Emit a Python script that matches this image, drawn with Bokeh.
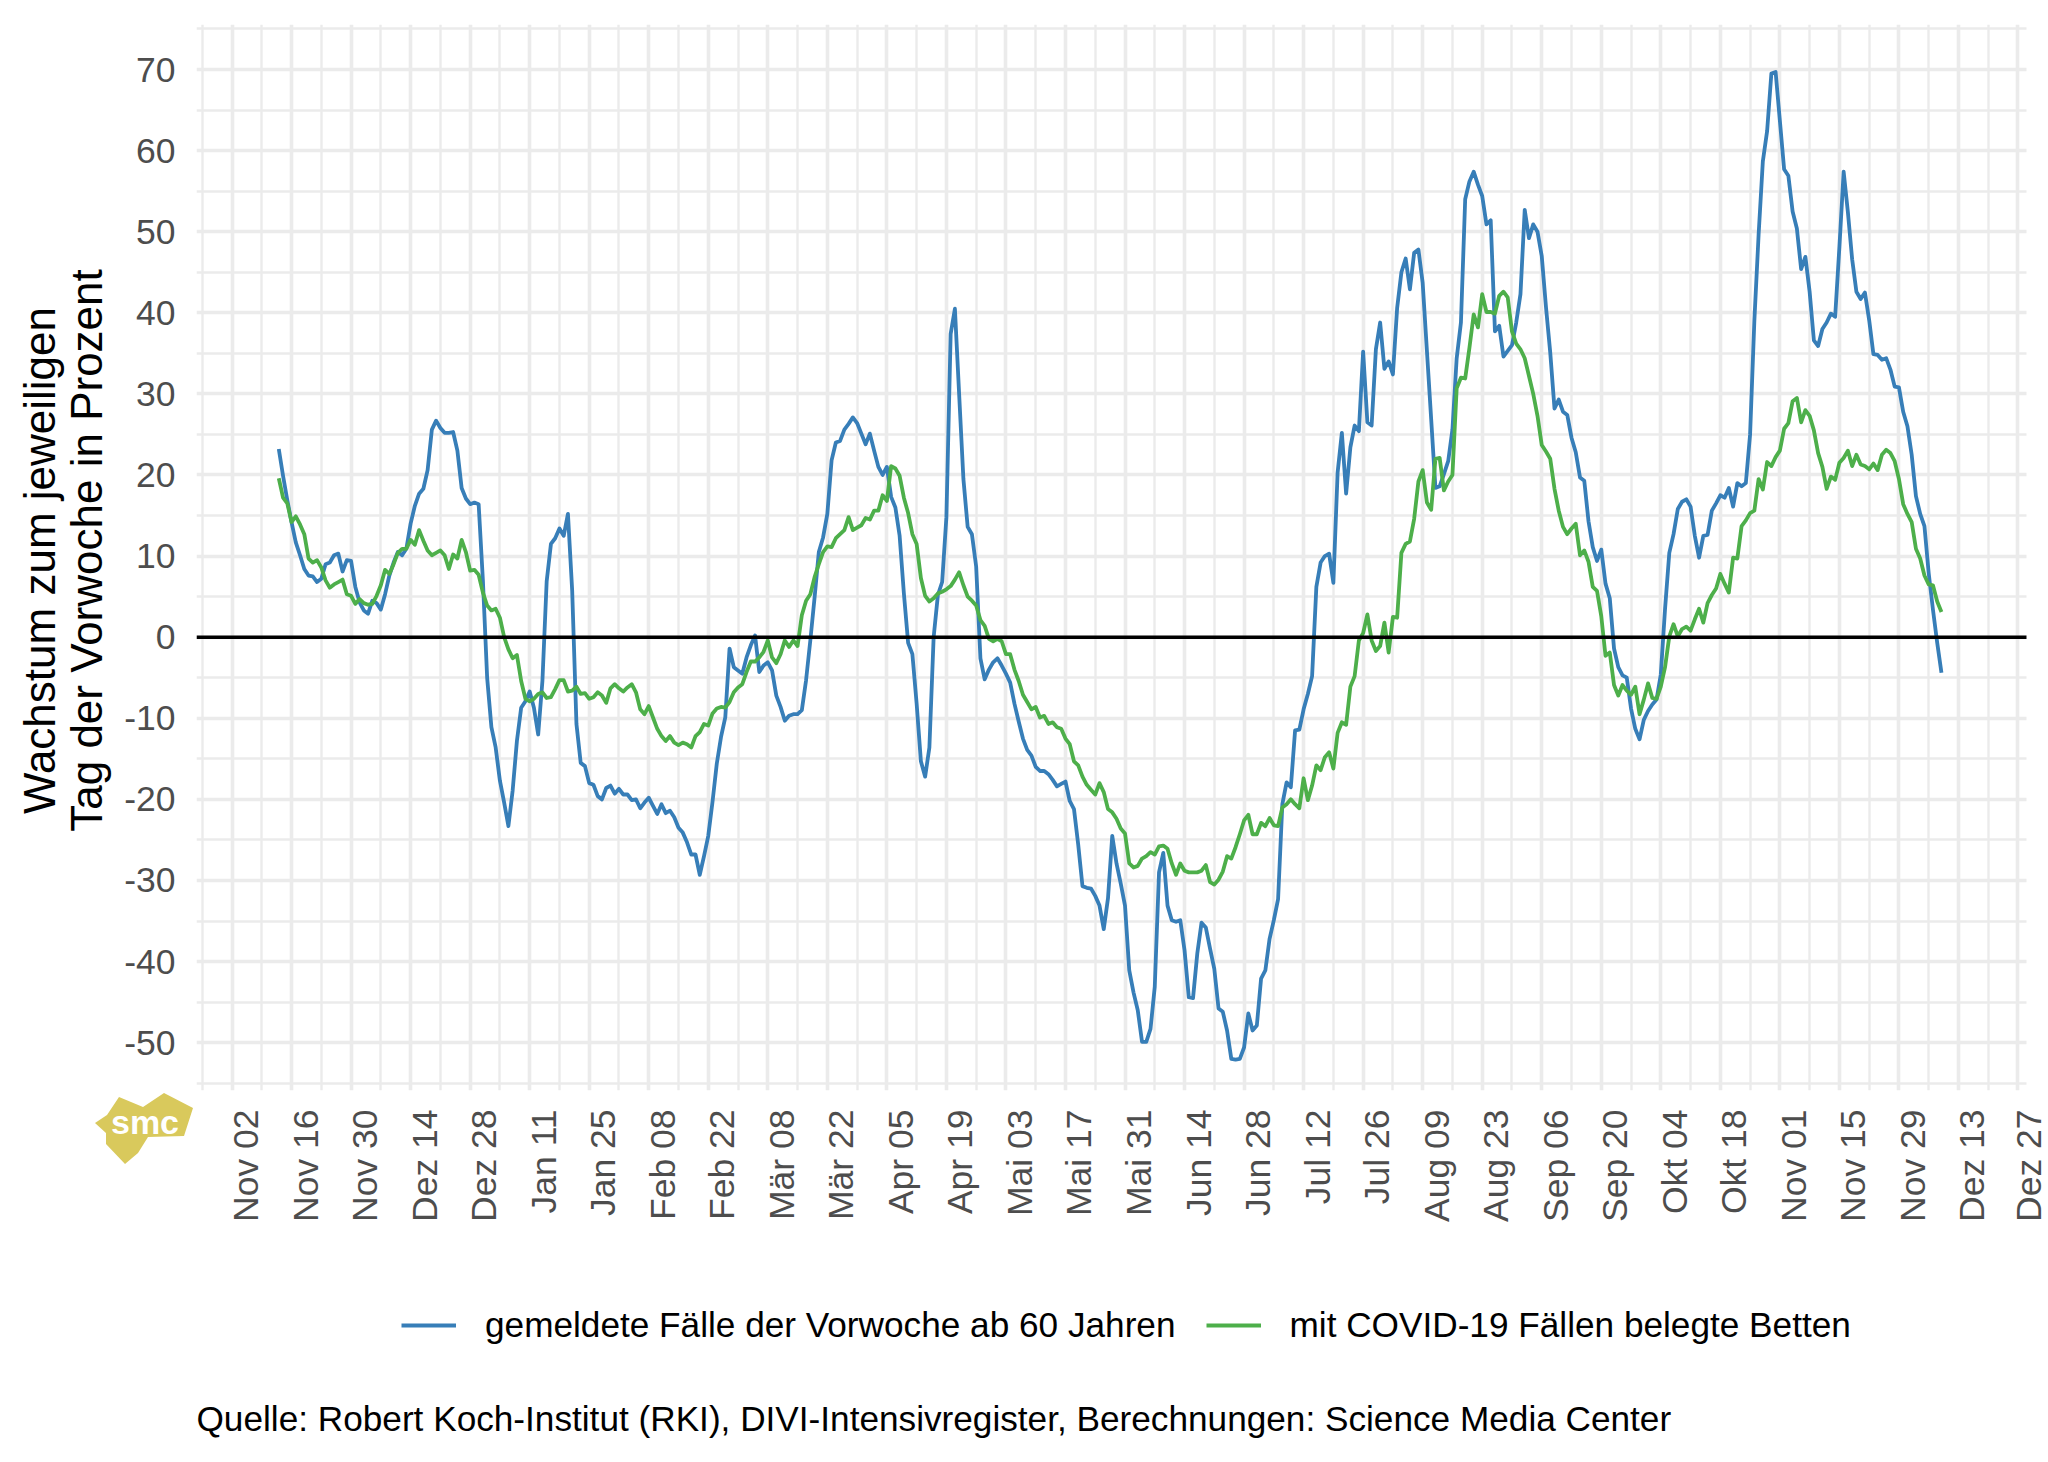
import math
import pandas as pd
from bokeh.embed import file_html
from bokeh.layouts import column
from bokeh.resources import INLINE
from bokeh.plotting import figure
from bokeh.models import (BoxAnnotation, Div, FixedTicker, Grid, Label, Legend, LegendItem,
                          LinearAxis, Range1d, Span)

FONT = "Liberation Sans"

start_date = "2020-11-13"
faelle = [
    23.2,19.9,16.9,14.2,11.7,10.1,8.4,7.6,7.5,6.8,
    7.2,9.0,9.2,10.1,10.3,8.1,9.5,9.4,6.2,4.3,
    3.3,2.9,4.5,4.2,3.4,5.3,7.6,9.2,10.5,10.1,
    10.9,14.0,16.2,17.7,18.3,20.6,25.6,26.7,25.8,25.2,
    25.2,25.3,23.0,18.4,17.1,16.4,16.6,16.4,7.0,-5.0,
    -11.1,-13.6,-17.7,-20.4,-23.3,-18.9,-12.8,-8.7,-7.9,-6.7,
    -8.7,-12.0,-5.4,6.9,11.5,12.2,13.4,12.5,15.2,5.7,
    -10.7,-15.5,-15.9,-18.0,-18.2,-19.6,-20.0,-18.6,-18.3,-19.3,
    -18.7,-19.4,-19.4,-20.1,-20.0,-21.1,-20.4,-19.8,-20.8,-21.8,
    -20.6,-21.7,-21.4,-22.2,-23.5,-24.1,-25.3,-26.8,-26.8,-29.3,
    -27.0,-24.5,-20.3,-15.6,-12.3,-9.9,-1.4,-3.7,-4.1,-4.5,
    -2.5,-1.0,0.2,-4.3,-3.5,-3.1,-4.1,-7.2,-8.6,-10.3,
    -9.7,-9.5,-9.5,-9.0,-5.3,-0.4,4.9,10.5,12.3,15.2,
    21.8,24.0,24.2,25.6,26.3,27.1,26.4,25.1,23.8,25.1,
    23.0,21.0,20.0,21.0,17.3,16.0,12.5,5.4,-0.7,-2.1,
    -8.2,-15.3,-17.2,-13.6,0.0,5.2,6.8,14.8,37.4,40.5,
    29.9,19.5,13.6,12.7,8.7,-2.6,-5.2,-4.0,-3.1,-2.6,
    -3.5,-4.5,-5.6,-8.2,-10.4,-12.5,-13.9,-14.6,-16.0,-16.5,
    -16.5,-16.9,-17.6,-18.4,-18.1,-17.8,-20.2,-21.2,-25.6,-30.7,
    -30.9,-31.0,-31.9,-33.1,-36.0,-32.2,-24.5,-27.9,-30.4,-33.1,
    -41.1,-43.8,-46.0,-49.9,-49.9,-48.3,-43.1,-29.0,-26.6,-33.1,
    -34.9,-35.1,-34.9,-38.6,-44.4,-44.5,-39.0,-35.2,-35.8,-38.4,
    -40.9,-45.8,-46.2,-48.5,-52.0,-52.1,-52.0,-50.6,-46.4,-48.5,
    -47.9,-42.1,-41.1,-37.2,-34.9,-32.3,-20.6,-17.9,-18.5,-11.5,
    -11.4,-8.9,-7.0,-4.8,6.2,9.2,10.0,10.3,6.7,20.3,
    25.2,17.7,23.4,26.1,25.4,35.2,26.5,26.1,35.5,38.8,
    33.1,34.0,32.4,40.6,45.0,46.7,42.9,47.4,47.8,43.7,
    35.3,26.9,18.4,18.6,20.1,21.7,25.6,34.4,38.8,54.0,
    56.2,57.4,55.8,54.4,50.9,51.4,37.7,38.4,34.6,35.3,
    36.0,38.8,42.3,52.7,49.2,50.9,50.0,47.0,40.7,35.1,
    28.2,29.3,27.8,27.4,24.6,22.8,19.7,19.3,14.3,11.1,
    9.4,10.8,6.6,4.8,-1.4,-3.7,-4.7,-5.0,-8.8,-11.3,
    -12.6,-10.2,-9.1,-8.3,-7.7,-4.6,3.5,10.4,12.7,15.8,
    16.7,17.0,16.1,12.5,9.8,12.5,12.6,15.6,16.5,17.5,
    17.2,18.4,16.1,19.0,18.6,19.0,25.0,39.0,49.6,58.7,
    62.4,69.5,69.7,63.7,57.7,56.9,52.5,50.4,45.4,46.9,
    42.6,36.6,35.9,38.0,38.8,39.9,39.5,48.1,57.4,52.4,
    46.6,42.6,41.7,42.5,39.1,34.9,34.8,34.2,34.4,33.0,
    30.9,30.8,27.8,26.0,22.5,17.4,15.2,13.7,7.9,3.4,
    -0.7,-4.4,
]
betten = [
    19.6,17.2,16.5,14.2,14.9,13.9,12.7,9.7,9.2,9.5,
    8.6,7.0,6.1,6.5,6.8,7.1,5.3,5.1,4.1,4.7,
    4.2,4.0,4.1,5.1,6.4,8.3,7.8,9.0,10.4,10.9,
    10.9,12.0,11.4,13.2,11.9,10.7,10.1,10.4,10.7,10.1,
    8.4,10.2,9.7,12.0,10.5,8.2,8.3,7.7,5.5,3.9,
    3.3,3.5,2.4,0.0,-1.5,-2.6,-2.2,-5.4,-7.6,-7.9,
    -7.6,-7.0,-6.8,-7.5,-7.4,-6.4,-5.3,-5.3,-6.7,-6.6,
    -6.1,-7.0,-6.9,-7.6,-7.4,-6.8,-7.2,-8.1,-6.3,-5.8,
    -6.3,-6.7,-6.2,-5.8,-6.8,-8.9,-9.5,-8.5,-9.9,-11.3,
    -12.2,-12.8,-12.2,-13.0,-13.3,-13.0,-13.2,-13.6,-12.2,-11.7,
    -10.7,-10.9,-9.4,-8.8,-8.6,-8.7,-8.0,-6.8,-6.2,-5.8,
    -4.3,-3.0,-3.0,-2.5,-1.8,-0.4,-2.5,-3.2,-2.1,-0.4,
    -1.2,-0.4,-1.1,2.7,4.5,5.3,7.4,9.0,10.5,11.2,
    11.1,12.2,12.7,13.2,14.8,13.2,13.5,13.8,14.7,14.5,
    15.6,15.6,17.5,16.8,21.1,20.8,19.9,17.2,15.3,12.7,
    11.5,7.3,5.1,4.4,4.8,5.4,5.6,5.9,6.3,7.1,
    8.0,6.4,5.0,4.5,3.9,2.1,1.4,-0.2,-0.5,-0.2,
    -0.5,-2.1,-2.1,-4.0,-5.4,-7.1,-8.0,-8.9,-8.6,-9.9,
    -9.7,-10.7,-10.5,-11.1,-11.3,-12.5,-13.2,-15.3,-15.8,-17.2,
    -18.2,-18.8,-19.4,-18.0,-19.1,-21.2,-21.6,-22.4,-23.6,-24.2,
    -27.9,-28.4,-28.2,-27.3,-27.0,-26.5,-26.8,-25.8,-25.7,-26.1,
    -27.9,-29.3,-27.9,-28.8,-29.0,-29.0,-29.0,-28.8,-28.1,-30.2,
    -30.5,-29.9,-28.9,-27.0,-27.3,-25.9,-24.3,-22.6,-21.9,-24.3,
    -24.3,-22.9,-23.3,-22.3,-23.2,-23.3,-21.0,-20.6,-20.0,-20.6,
    -21.1,-17.4,-20.1,-18.3,-15.8,-16.4,-14.8,-14.2,-16.2,-11.8,
    -10.5,-10.8,-6.1,-4.8,-0.4,0.5,2.8,-0.4,-1.7,-1.1,
    1.8,-1.9,2.5,2.4,10.4,11.5,11.8,14.6,19.2,20.6,
    16.6,15.7,22.0,22.1,18.1,19.2,20.0,30.7,32.0,31.9,
    35.7,39.8,38.2,42.3,40.1,40.1,39.9,42.1,42.6,41.9,
    37.7,36.2,35.5,34.4,32.2,30.0,27.3,23.7,22.9,22.0,
    18.3,15.6,13.6,12.7,13.4,14.0,10.1,10.7,9.3,6.2,
    5.7,2.6,-2.3,-1.9,-5.9,-7.2,-5.9,-6.6,-7.1,-6.1,
    -9.5,-7.7,-5.7,-7.5,-7.6,-6.1,-3.7,0.1,1.6,0.1,
    1.0,1.3,0.8,2.2,3.5,1.8,4.2,5.2,6.0,7.8,
    6.6,5.5,9.8,9.7,13.7,14.4,15.3,15.6,19.5,18.2,
    21.6,21.1,22.2,23.0,25.7,26.4,29.1,29.5,26.5,28.0,
    27.3,25.5,22.7,21.0,18.3,19.8,19.4,21.5,22.1,23.0,
    21.1,22.5,21.3,21.1,20.7,21.4,20.6,22.5,23.1,22.7,
    21.7,19.5,16.4,15.2,14.2,10.9,9.7,7.6,6.5,6.4,
    4.4,3.1,
]
x_tick_labels = ["Nov 02","Nov 16","Nov 30","Dez 14","Dez 28","Jan 11","Jan 25","Feb 08",
                 "Feb 22","Mär 08","Mär 22","Apr 05","Apr 19","Mai 03","Mai 17","Mai 31",
                 "Jun 14","Jun 28","Jul 12","Jul 26","Aug 09","Aug 23","Sep 06","Sep 20",
                 "Okt 04","Okt 18","Nov 01","Nov 15","Nov 29","Dez 13","Dez 27"]
y_ticks = [70,60,50,40,30,20,10,0,-10,-20,-30,-40,-50]
y_minor = [75,65,55,45,35,25,15,5,-5,-15,-25,-35,-45,-55]
series_names = ["gemeldete Fälle der Vorwoche ab 60 Jahren", "mit COVID-19 Fällen belegte Betten"]
caption = "Quelle: Robert Koch-Institut (RKI), DIVI-Intensivregister, Berechnungen: Science Media Center"
y_title = ["Wachstum zum jeweiligen", "Tag der Vorwoche in Prozent"]
logo_x = [95,107,119,143,164,193,184,148,138,125,106,106]
logo_y = [1123,1115,1097,1107,1093,1108,1136,1137,1153,1164,1144,1133]

assert len(faelle) == len(betten)
dates = pd.date_range(start_date, periods=len(faelle), freq="D")

DAY = 86400000
first_tick = int(pd.Timestamp("2020-11-02").value // 1000000)
x_ticks = [first_tick + 14 * DAY * i for i in range(len(x_tick_labels))]
x_minor = [first_tick + 7 * DAY * (2 * i - 1) for i in range(0, 31)]

# geometry: canvas pixels. The panel proper ends at PR; the frame runs on to the canvas edge
# so that the last shifted tick label stays in range, and a white box masks the remainder.
PL, PR, PT, PB = 196, 2026, 24, 1090
W, H_TOP, H_BOTTOM = 2048, 1240, 222
x0 = first_tick - 8.35 * DAY
x_panel_end = first_tick + 422 * DAY
ms_per_px = (x_panel_end - x0) / (PR - PL)
x1 = x0 + (W - PL) * ms_per_px
LABEL_SHIFT = 14

p = figure(width=W, height=H_TOP, output_backend="svg", toolbar_location=None,
           x_axis_type=None, y_axis_type=None,
           x_range=Range1d(x0, x1), y_range=Range1d(-55.9, 75.55),
           min_border_left=PL, min_border_right=0,
           min_border_top=PT, min_border_bottom=H_TOP - PB,
           background_fill_color="white", border_fill_color="white")
p.outline_line_color = None
p.extra_x_ranges["labels"] = Range1d(x0 - LABEL_SHIFT * ms_per_px, x1 - LABEL_SHIFT * ms_per_px)

xaxis = LinearAxis(x_range_name="labels", ticker=FixedTicker(ticks=x_ticks),
                   major_label_overrides=dict(zip(x_ticks, x_tick_labels)),
                   major_label_orientation=math.pi / 2, major_label_standoff=13,
                   major_label_text_font=FONT, major_label_text_font_size="35.5px",
                   major_label_text_color="#4D4D4D", major_tick_line_color=None,
                   minor_tick_line_color=None, axis_line_color=None)
p.add_layout(xaxis, "below")
yaxis = LinearAxis(ticker=FixedTicker(ticks=y_ticks),
                   major_label_overrides={v: str(v) for v in y_ticks},
                   major_label_standoff=15,
                   major_label_text_font=FONT, major_label_text_font_size="35.5px",
                   major_label_text_color="#4D4D4D", major_tick_line_color=None,
                   minor_tick_line_color=None, axis_line_color=None)
p.add_layout(yaxis, "left")

GRID = "#EBEBEB"
p.add_layout(Grid(dimension=0, ticker=FixedTicker(ticks=x_ticks, minor_ticks=x_minor),
                  grid_line_color=GRID, grid_line_width=3.6,
                  minor_grid_line_color=GRID, minor_grid_line_width=2.4))
p.add_layout(Grid(dimension=1, ticker=FixedTicker(ticks=y_ticks, minor_ticks=y_minor),
                  grid_line_color=GRID, grid_line_width=3.6,
                  minor_grid_line_color=GRID, minor_grid_line_width=2.4))

p.line(dates, faelle, line_color="#377EB8", line_width=3.8, line_join="round")
p.line(dates, betten, line_color="#4DAF4A", line_width=3.8, line_join="round")
p.add_layout(Span(location=0, dimension="width", line_color="black", line_width=3.4))
p.add_layout(BoxAnnotation(left=x_panel_end, fill_color="white", fill_alpha=1, line_color=None,
                           level="overlay"))

p.add_layout(Label(x=14, y=540, x_units="screen", y_units="screen", text=y_title[1], text_font=FONT,
                   text_font_size="44px", text_color="black", angle=math.pi / 2,
                   text_align="center", text_baseline="middle"), "left")
p.add_layout(Label(x=16, y=530, x_units="screen", y_units="screen", text=y_title[0], text_font=FONT,
                   text_font_size="44px", text_color="black", angle=math.pi / 2,
                   text_align="center", text_baseline="middle"), "left")

# footer: legend and source line
f = figure(width=W, height=H_BOTTOM, output_backend="svg", toolbar_location=None,
           x_axis_type=None, y_axis_type=None, x_range=Range1d(x0, x1), y_range=Range1d(1000, 1100),
           min_border=0, background_fill_color="white", border_fill_color="white")
f.outline_line_color = None
f.grid.visible = False
lf1 = f.line(dates, faelle, line_color="#377EB8", line_width=3.8)
lf2 = f.line(dates, betten, line_color="#4DAF4A", line_width=3.8)
f.add_layout(Legend(items=[LegendItem(label=series_names[0], renderers=[lf1]),
                           LegendItem(label=series_names[1], renderers=[lf2])],
                    orientation="horizontal", location=(205, 117), padding=0, margin=0,
                    glyph_width=55, glyph_height=36, label_standoff=29, spacing=30,
                    background_fill_alpha=0, border_line_color=None,
                    label_text_font=FONT, label_text_font_size="35.2px", label_text_color="black"))
f.add_layout(Label(x=0, y=44, x_units="screen", y_units="screen", text=caption, text_font=FONT,
                   text_font_size="35.2px", text_color="black", text_align="left",
                   text_baseline="middle"))

# logo, laid over the empty corner below the panel
LX, LY = min(logo_x), min(logo_y)
pts = " ".join(f"{x - LX},{y - LY}" for x, y in zip(logo_x, logo_y))
logo_svg = (f'<svg xmlns="http://www.w3.org/2000/svg" width="100" height="74" style="display:block">'
            f'<polygon points="{pts}" fill="#D9C95C"/>'
            f'<text x="50" y="41" text-anchor="middle" font-family="{FONT}" font-weight="bold" '
            f'font-size="34" fill="white">smc</text></svg>')
logo = Div(text=logo_svg, width=100, height=74, margin=0,
           styles={"position": "absolute", "left": f"{LX}px", "top": f"{LY}px"})

page = column(p, f, logo, spacing=0)
open("out.html", "w").write(file_html(page, INLINE))
